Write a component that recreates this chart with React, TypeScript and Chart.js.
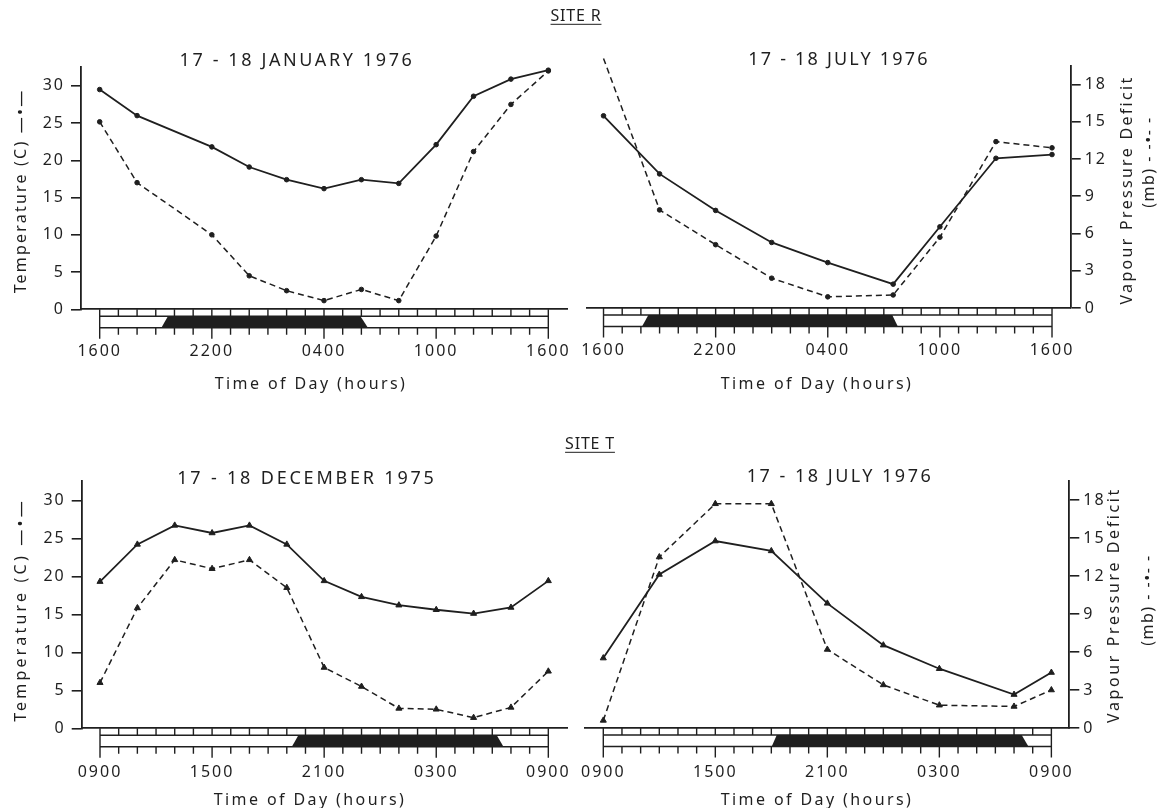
import React, { useEffect, useRef } from 'react';
import { Chart, registerables } from 'chart.js';

Chart.register(...registerables);

const INK = '#1f1f1f';
const FONT = '"Noto Sans", "DejaVu Sans", sans-serif';
const W = 1157;
const H = 808;

// ---- Site R, 17-18 January 1976 (hours after 1600) ----
const janHours = [0, 2, 6, 8, 10, 12, 14, 16, 18, 20, 22, 24];
const janTemp = [29.5, 26.0, 21.8, 19.1, 17.4, 16.2, 17.4, 16.9, 22.1, 28.6, 30.9, 32.1];
const janVpd = [15.1, 10.2, 6.0, 2.7, 1.5, 0.7, 1.6, 0.7, 5.9, 12.7, 16.5, 19.2];
const janNight = [3.3, 3.65, 13.95, 14.35];

// ---- Site R, 17-18 July 1976 (hours after 1600) ----
const rJulHours = [0, 3, 6, 9, 12, 15.5, 18, 21, 24];
const rJulTemp = [25.8, 18.0, 13.1, 8.8, 6.1, 3.2, 10.9, 20.1, 20.6];
const rJulVpd = [20.1, 7.9, 5.1, 2.4, 0.9, 1.05, 5.7, 13.4, 12.9];
const rJulNight = [2.06, 2.4, 15.45, 15.75];

// ---- Site T, 17-18 December 1975 (hours after 0900) ----
const decHours = [0, 2, 4, 6, 8, 10, 12, 14, 16, 18, 20, 22, 24];
const decTemp = [19.3, 24.2, 26.7, 25.7, 26.7, 24.2, 19.4, 17.3, 16.2, 15.6, 15.1, 15.9, 19.4];
const decVpd = [3.6, 9.5, 13.3, 12.6, 13.3, 11.1, 4.8, 3.3, 1.57, 1.5, 0.84, 1.65, 4.5];
const decNight = [10.27, 10.62, 21.24, 21.6];

// ---- Site T, 17-18 July 1976 (hours after 0900) ----
const tJulHours = [0, 3, 6, 9, 12, 15, 18, 22, 24];
const tJulTemp = [9.2, 20.2, 24.6, 23.3, 16.4, 10.9, 7.8, 4.4, 7.3];
const tJulVpd = [0.6, 13.5, 17.7, 17.7, 6.2, 3.4, 1.8, 1.7, 3.0];
const tJulNight = [9.02, 9.29, 22.41, 22.77];

const siteRTickLabels = ['1600', '2200', '0400', '1000', '1600'];
const siteTTickLabels = ['0900', '1500', '2100', '0300', '0900'];
const labelHours = [0, 6, 12, 18, 24];
const tempTicks = [0, 5, 10, 15, 20, 25, 30];
const vpdTicks = [0, 3, 6, 9, 12, 15, 18];

const AXIS_W = 60;
const AXIS_H = 70;

type Panel = {
  hours: number[];
  temp: number[];
  vpd: number[];
  night: number[];
  labels: string[];
  side: 'left' | 'right';
  marker: string;
  radius: number;
  xMin: number;
  xMax: number;
  labelPad: number;
  area: { left: number; right: number; top: number; bottom: number };
};

const panels: Panel[] = [
  {
    hours: janHours, temp: janTemp, vpd: janVpd, night: janNight, labels: siteRTickLabels,
    side: 'left', marker: 'circle', radius: 2.3, xMin: -1, xMax: 25, labelPad: 33,
    area: { left: 81, right: 567, top: 67.2, bottom: 309.3 },
  },
  {
    hours: rJulHours, temp: rJulTemp, vpd: rJulVpd, night: rJulNight, labels: siteRTickLabels,
    side: 'right', marker: 'circle', radius: 2.3, xMin: -0.9, xMax: 25, labelPad: 33,
    area: { left: 586.7, right: 1070.7, top: 65.9, bottom: 308 },
  },
  {
    hours: decHours, temp: decTemp, vpd: decVpd, night: decNight, labels: siteTTickLabels,
    side: 'left', marker: 'triangle', radius: 3.5, xMin: -0.98, xMax: 25, labelPad: 34.5,
    area: { left: 81.7, right: 567, top: 481.3, bottom: 728.3 },
  },
  {
    hours: tJulHours, temp: tJulTemp, vpd: tJulVpd, night: tJulNight, labels: siteTTickLabels,
    side: 'right', marker: 'triangle', radius: 3.5, xMin: -0.98, xMax: 24.96, labelPad: 34.5,
    area: { left: 585, right: 1069.3, top: 481, bottom: 728 },
  },
];

function makeStrip(night: number[]) {
  return {
    id: 'dayNightStrip',
    beforeDraw(chart: any) {
      chart.ctx.letterSpacing = '2px';
    },
    afterDraw(chart: any) {
      const x = chart.scales.x;
      const y0 = chart.chartArea.bottom;
      const ctx = chart.ctx;
      const px = (h: number) => x.getPixelForValue(h);
      const mid = y0 + 7;
      const bot = y0 + 18.5;
      ctx.save();
      ctx.strokeStyle = INK;
      ctx.fillStyle = INK;
      ctx.lineWidth = 1.4;
      ctx.beginPath();
      ctx.moveTo(px(night[0]), bot);
      ctx.lineTo(px(night[1]), mid);
      ctx.lineTo(px(night[2]), mid);
      ctx.lineTo(px(night[3]), bot);
      ctx.closePath();
      ctx.fill();
      ctx.beginPath();
      ctx.moveTo(px(0), mid);
      ctx.lineTo(px(24), mid);
      ctx.moveTo(px(0), bot);
      ctx.lineTo(px(24), bot);
      for (let h = 0; h <= 24; h++) {
        const xx = px(h);
        ctx.moveTo(xx, y0);
        ctx.lineTo(xx, mid);
        const len = h % 6 === 0 ? 11 : 7;
        ctx.moveTo(xx, bot);
        ctx.lineTo(xx, bot + len);
      }
      ctx.moveTo(px(0), y0);
      ctx.lineTo(px(0), bot);
      ctx.moveTo(px(24), y0);
      ctx.lineTo(px(24), bot);
      ctx.stroke();
      ctx.restore();
    },
  };
}

function buildConfig(p: Panel): any {
  const pad = {
    left: p.side === 'left' ? p.area.left - AXIS_W : p.area.left,
    right: p.side === 'right' ? W - p.area.right - AXIS_W : W - p.area.right,
    top: p.area.top,
    bottom: H - p.area.bottom - AXIS_H,
  };
  const tickFont = { family: FONT, size: 16 };
  const yCommon = (ticks: number[], show: boolean, pos: string) => ({
    type: 'linear',
    position: pos,
    display: show,
    min: 0,
    afterBuildTicks: (s: any) => {
      s.ticks = ticks.map((v) => ({ value: v }));
    },
    afterFit: (s: any) => {
      s.width = show ? AXIS_W : 0;
    },
    grid: { drawOnChartArea: false, drawTicks: true, tickLength: 10, color: INK, lineWidth: 1.6 },
    border: { display: true, color: INK, width: 1.8 },
    ticks: { color: INK, font: tickFont, padding: pos === 'right' ? 4 : 6 },
  });
  return {
    type: 'line',
    data: {
      datasets: [
        {
          label: 'Temperature (C)',
          data: p.hours.map((h, i) => ({ x: h, y: p.temp[i] })),
          yAxisID: 'yT',
          borderColor: INK,
          backgroundColor: INK,
          borderWidth: 1.8,
          pointStyle: p.marker,
          pointRadius: p.radius,
          pointBackgroundColor: INK,
          pointBorderColor: INK,
          pointBorderWidth: 1,
          tension: 0,
          clip: false,
        },
        {
          label: 'Vapour Pressure Deficit (mb)',
          data: p.hours.map((h, i) => ({ x: h, y: p.vpd[i] })),
          yAxisID: 'yV',
          borderColor: INK,
          backgroundColor: INK,
          borderWidth: 1.5,
          borderDash: [6, 4],
          pointStyle: p.marker,
          pointRadius: p.radius,
          pointBackgroundColor: INK,
          pointBorderColor: INK,
          pointBorderWidth: 1,
          tension: 0,
          clip: false,
        },
      ],
    },
    options: {
      responsive: false,
      animation: false,
      events: [],
      layout: { padding: pad },
      plugins: { legend: { display: false }, tooltip: { enabled: false }, title: { display: false } },
      scales: {
        x: {
          type: 'linear',
          position: 'bottom',
          min: p.xMin,
          max: p.xMax,
          afterBuildTicks: (s: any) => {
            s.ticks = labelHours.map((v) => ({ value: v }));
          },
          afterFit: (s: any) => {
            s.height = AXIS_H;
          },
          grid: { display: false, drawTicks: false },
          border: { display: true, color: INK, width: 1.8 },
          ticks: {
            color: INK,
            font: tickFont,
            padding: p.labelPad,
            maxRotation: 0,
            autoSkip: false,
            callback: (_v: any, i: number) => p.labels[i],
          },
        },
        yT: { ...yCommon(tempTicks, p.side === 'left', 'left'), max: 32.5 },
        yV: { ...yCommon(vpdTicks, p.side === 'right', 'right'), max: 19.5 },
      },
    },
    plugins: [makeStrip(p.night)],
  };
}

function PanelCanvas({ panel }: { panel: Panel }) {
  const ref = useRef<HTMLCanvasElement>(null);
  useEffect(() => {
    const chart = new Chart(ref.current as HTMLCanvasElement, buildConfig(panel));
    return () => chart.destroy();
  }, [panel]);
  return (
    <canvas
      ref={ref}
      width={W}
      height={H}
      style={{ position: 'absolute', left: 0, top: 0, width: W, height: H }}
    />
  );
}

function Txt(props: {
  x: number;
  y: number;
  size: number;
  ls?: number;
  rotate?: boolean;
  underline?: boolean;
  children: React.ReactNode;
}) {
  return (
    <div
      style={{
        position: 'absolute',
        left: props.x,
        top: props.y,
        transform: `translate(-50%, -50%)${props.rotate ? ' rotate(-90deg)' : ''}`,
        fontFamily: FONT,
        fontSize: props.size,
        letterSpacing: props.ls ?? 0,
        whiteSpace: 'nowrap',
        color: INK,
        lineHeight: 1.15,
        textDecoration: props.underline ? 'underline' : 'none',
        textUnderlineOffset: 3,
      }}
    >
      {props.children}
    </div>
  );
}

export default function App() {
  return (
    <div
      style={{
        position: 'absolute',
        left: 0,
        top: 0,
        width: W,
        height: H,
        background: '#ffffff',
        overflow: 'hidden',
      }}
    >
      {panels.map((p, i) => (
        <PanelCanvas key={i} panel={p} />
      ))}
      <Txt x={576} y={15} size={16} ls={0.8} underline>SITE R</Txt>
      <Txt x={590} y={443} size={16} ls={0.8} underline>SITE T</Txt>

      <Txt x={297} y={59} size={18} ls={2.6}>17 - 18 JANUARY 1976</Txt>
      <Txt x={839} y={58} size={18} ls={2.2}>17 - 18 JULY 1976</Txt>
      <Txt x={307} y={477} size={18} ls={2.8}>17 - 18 DECEMBER 1975</Txt>
      <Txt x={840} y={475} size={18} ls={2.5}>17 - 18 JULY 1976</Txt>

      <Txt x={311} y={383} size={16} ls={2.4}>Time of Day (hours)</Txt>
      <Txt x={817} y={383} size={16} ls={2.4}>Time of Day (hours)</Txt>
      <Txt x={310} y={799} size={16} ls={2.4}>Time of Day (hours)</Txt>
      <Txt x={817} y={799} size={16} ls={2.4}>Time of Day (hours)</Txt>

      <Txt x={20} y={191} size={16} ls={2.2} rotate>Temperature (C) —•—</Txt>
      <Txt x={20} y={610} size={16} ls={3.2} rotate>Temperature (C) —•—</Txt>

      <Txt x={1126} y={190} size={16} ls={2.3} rotate>Vapour Pressure Deficit</Txt>
      <Txt x={1148} y={162} size={16} ls={1.5} rotate>(mb) - -•- -</Txt>
      <Txt x={1113} y={605} size={16} ls={2.6} rotate>Vapour Pressure Deficit</Txt>
      <Txt x={1147} y={600} size={16} ls={1.5} rotate>(mb) - -•- -</Txt>
    </div>
  );
}
